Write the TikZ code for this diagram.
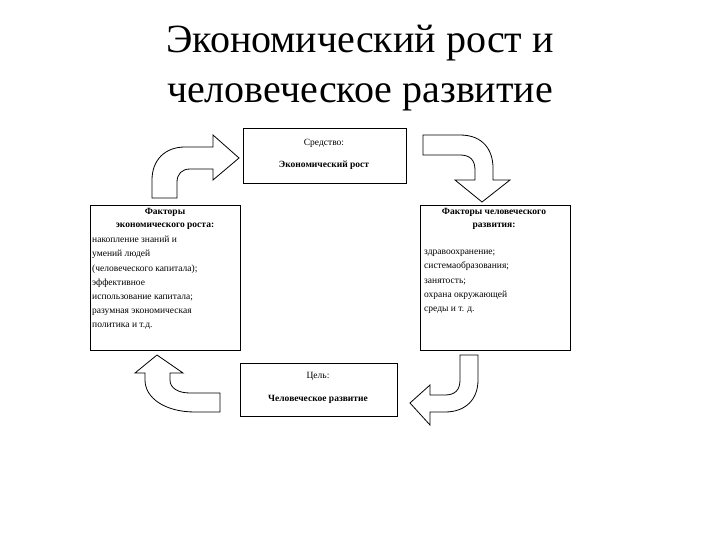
\documentclass[tikz,border=0pt]{standalone}
\usepackage{fontspec}
\setmainfont{Liberation Serif}
\begin{document}
\begin{tikzpicture}[x=1pt,y=-1pt,
  barrow/.style={draw,line width=0.8pt,fill=white,line join=miter},
  txt/.style={font=\fontsize{9.5}{14.2}\selectfont,inner sep=0pt},
  hd/.style={font=\fontsize{9.5}{13}\selectfont\bfseries,inner sep=0pt,align=center}]
\useasboundingbox (0,0) rectangle (720,540);
\node (title) at (360,68) [align=center,font=\fontsize{40}{50}\selectfont] {Экономический рост и\\человеческое развитие};
% boxes
\draw[line width=0.8pt] (243,128) rectangle (406,183);
\node (top1) [txt] at (324,143) {Средство:};
\node (top2) [hd] at (324,165) {Экономический рост};
\draw[line width=0.8pt] (90,205) rectangle (240,350);
\node (lefth) [hd,anchor=north] at (165,208) {Факторы\\экономического роста:};
\node (left) [txt,anchor=north west,align=left] at (92,236)
 {накопление знаний и\\ умений людей\\ (человеческого капитала);\\ эффективное\\ использование капитала;\\ разумная экономическая\\ политика и т.д.};
\draw[line width=0.8pt] (420,205) rectangle (570,350);
\node (righth) [hd,anchor=north] at (494,208) {Факторы человеческого\\развития:};
\node (right) [txt,anchor=north west,align=left] at (424,250)
 {здравоохранение;\\ системаобразования;\\ занятость;\\ охрана окружающей\\ среды и т. д.};
\draw[line width=0.8pt] (240,363) rectangle (397,416);
\node (bot1) [txt] at (318,376) {Цель:};
\node (bot2) [hd] at (318,399) {Человеческое развитие};
% bent arrows
\draw[barrow] (152,198) -- (152,180) .. controls (152,160) and (165,147) .. (185,147) -- (213,147) -- (213,135) -- (239,158) -- (213,180) -- (213,169) -- (190,169) .. controls (182,169) and (177,174) .. (177,182) -- (177,198) -- cycle;
\draw[barrow] (423,135) -- (460,135) .. controls (483,135) and (493,150) .. (493,168) -- (493,180) -- (510,180) -- (482,202) -- (455,180) -- (475,180) -- (475,170) .. controls (475,160) and (470,155) .. (460,155) -- (423,155) -- cycle;
\draw[barrow] (478,355) -- (478,380) .. controls (478,400) and (465,412) .. (445,412) -- (430,412) -- (430,425) -- (410,403) -- (430,385) -- (430,395) -- (445,395) .. controls (455,395) and (460,390) .. (460,380) -- (460,355) -- cycle;
\draw[barrow] (220,412) -- (195,412) .. controls (165,412) and (145,398) .. (145,380) -- (145,373) -- (135,373) -- (157,355) -- (183,373) -- (170,373) -- (170,380) .. controls (170,388) and (178,393) .. (190,393) -- (220,393) -- cycle;
\end{tikzpicture}
\end{document}
